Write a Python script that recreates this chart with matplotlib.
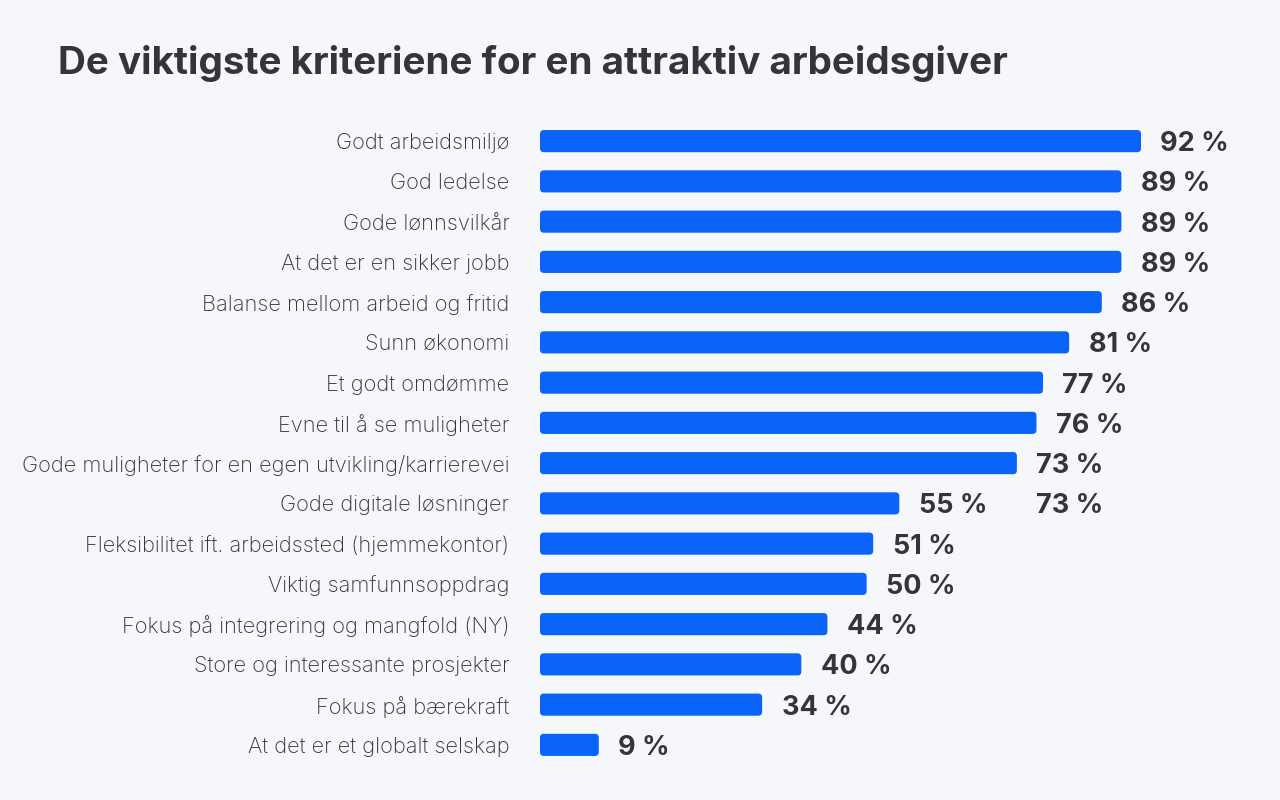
import matplotlib
matplotlib.use("Agg")
import matplotlib.pyplot as plt
from matplotlib.patches import FancyBboxPatch

# data
categories = [
    "Godt arbeidsmiljø",
    "God ledelse",
    "Gode lønnsvilkår",
    "At det er en sikker jobb",
    "Balanse mellom arbeid og fritid",
    "Sunn økonomi",
    "Et godt omdømme",
    "Evne til å se muligheter",
    "Gode muligheter for en egen utvikling/karrierevei",
    "Gode digitale løsninger",
    "Fleksibilitet ift. arbeidssted (hjemmekontor)",
    "Viktig samfunnsoppdrag",
    "Fokus på integrering og mangfold (NY)",
    "Store og interessante prosjekter",
    "Fokus på bærekraft",
    "At det er et globalt selskap",
]
values = [92, 89, 89, 89, 86, 81, 77, 76, 73, 55, 51, 50, 44, 40, 34, 9]
# the original has a stray second label on one row
stray_row = "Gode digitale løsninger"
stray_value = 73

title = "De viktigste kriteriene for en attraktiv arbeidsgiver"

bg = "#f5f7fb"
blue = "#0a64fa"
ink = "#33353a"

fig = plt.figure(figsize=(12.8, 8), dpi=100, facecolor=bg)
ax = fig.add_axes([540/1280, 1 - 765/800, 740/1280, 644/800])
ax.set_facecolor(bg)

y = list(range(len(categories)))
bars = ax.barh(y, values, height=0.55, color=blue)
ax.set_xlim(0, 92 * 740 / 601)
ax.set_ylim(len(categories) - 0.5, -0.5)

# swap plain bars for rounded ones
for b in bars:
    b.set_visible(False)
    p = FancyBboxPatch((b.get_x(), b.get_y()), b.get_width(), b.get_height(),
                       boxstyle="round,pad=0,rounding_size=0.6",
                       mutation_aspect=0.16, fc=blue, ec="none")
    ax.add_patch(p)

for yi, v in zip(y, values):
    ax.annotate(f"{v} %", (v, yi), xytext=(14, 0), textcoords="offset points",
                ha="left", va="center_baseline", fontsize=19.5, fontweight="bold",
                color=ink, family="Inter")

ri = categories.index(stray_row)
ax.annotate(f"{stray_value} %", (stray_value, ri), xytext=(14, 0),
            textcoords="offset points", ha="left", va="center_baseline",
            fontsize=19.5, fontweight="bold", color=ink, family="Inter")

for yi, c in zip(y, categories):
    ax.annotate(c, (0, yi), xytext=(-22, 0), textcoords="offset points",
                ha="right", va="center_baseline", fontsize=15.7,
                fontweight="light", color=ink, family="Inter",
                annotation_clip=False)

ax.axis("off")

fig.text(58/1280, 1 - 64/800, title, ha="left", va="center", fontsize=27.8,
         fontweight="bold", color=ink, family="Inter")

fig.savefig("out.png", dpi=100, facecolor=bg)
